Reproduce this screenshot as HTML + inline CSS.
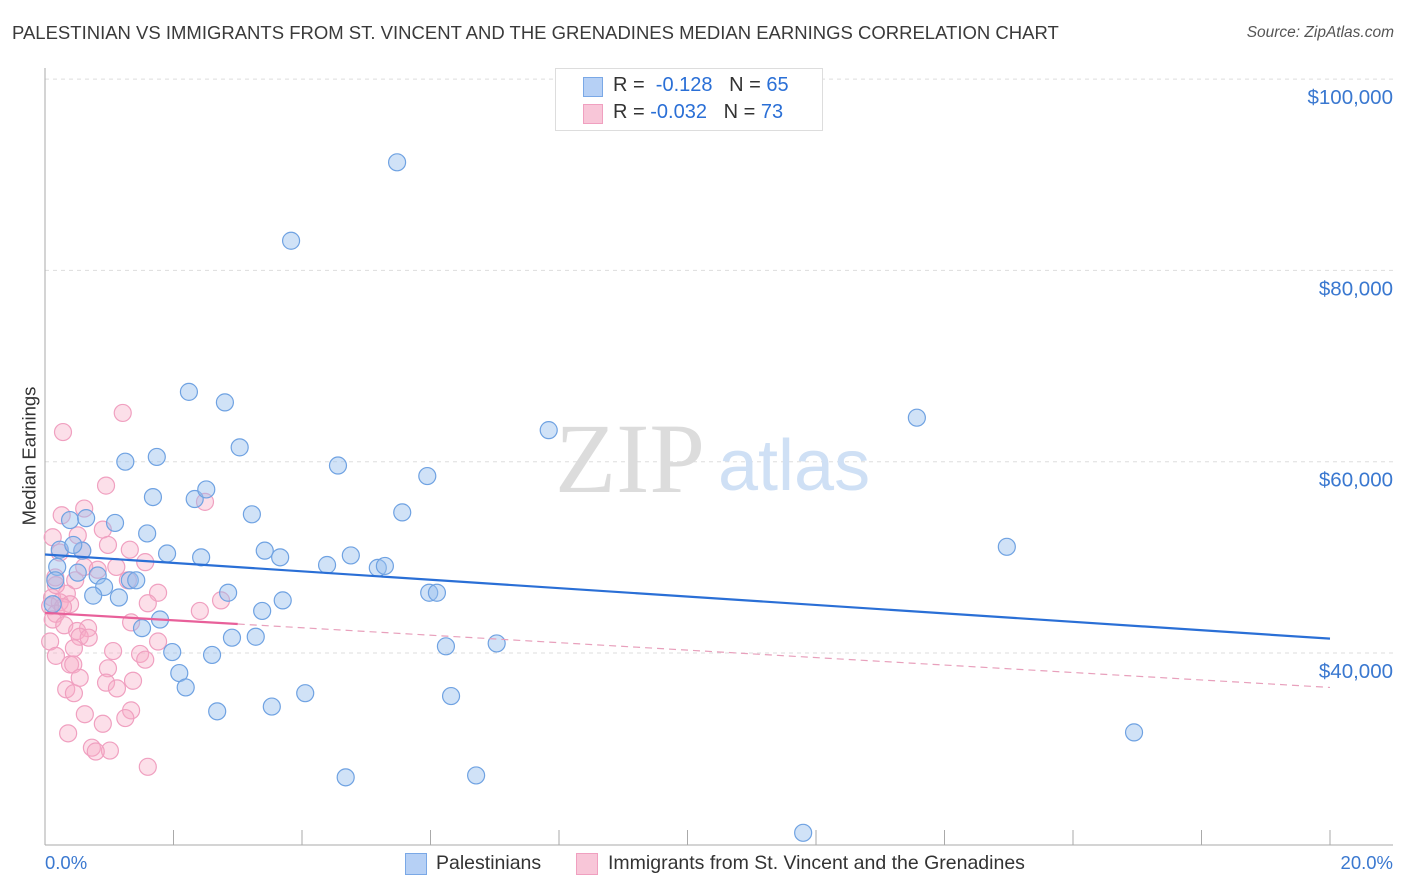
<!DOCTYPE html>
<html><head><meta charset="utf-8">
<style>
body{margin:0;background:#fff;font-family:"Liberation Sans",sans-serif;}
#wrap{position:relative;width:1406px;height:892px;overflow:hidden;}
.t{position:absolute;white-space:nowrap;}
</style></head><body>
<div id="wrap">
<div class="t" style="left:12px;top:22px;font-size:18.5px;color:#3a3a3a;">PALESTINIAN VS IMMIGRANTS FROM ST. VINCENT AND THE GRENADINES MEDIAN EARNINGS CORRELATION CHART</div>
<div class="t" style="right:12px;top:24px;font-size:15.5px;color:#555;font-style:italic;">Source: ZipAtlas.com</div>
<div class="t" style="left:-40px;top:445px;font-size:18.5px;color:#333;transform:rotate(-90deg);">Median Earnings</div>
<svg id="svg" width="1406" height="892" style="position:absolute;left:0;top:0"></svg>
<div style="position:absolute;left:555px;top:68px;width:266px;height:61px;border:1px solid #ddd;background:#fff;">
 <div style="position:absolute;left:27px;top:8px;width:18px;height:18px;background:#b6d0f5;border:1px solid #7aa8e6;"></div>
 <div class="t" style="left:57px;top:5px;font-size:20px;color:#333;">R = &nbsp;<span style="color:#2a6fd6">-0.128</span> &nbsp;&nbsp;N = <span style="color:#2a6fd6">65</span></div>
 <div style="position:absolute;left:27px;top:35px;width:18px;height:18px;background:#f8c6d8;border:1px solid #f0a0c0;"></div>
 <div class="t" style="left:57px;top:32px;font-size:20px;color:#333;">R = <span style="color:#2a6fd6">-0.032</span> &nbsp;&nbsp;N = <span style="color:#2a6fd6">73</span></div>
</div>
<div class="t" style="left:45px;top:852px;font-size:18.5px;color:#3a78d0;">0.0%</div>
<div class="t" style="right:13px;top:852px;font-size:18.5px;color:#3a78d0;">20.0%</div>
<div style="position:absolute;left:405px;top:853px;width:20px;height:20px;background:#b6d0f5;border:1px solid #7aa8e6;"></div>
<div class="t" style="left:436px;top:852px;font-size:19.5px;color:#333;">Palestinians</div>
<div style="position:absolute;left:576px;top:853px;width:20px;height:20px;background:#f8c6d8;border:1px solid #f0a0c0;"></div>
<div class="t" style="left:608px;top:852px;font-size:19.5px;color:#333;">Immigrants from St. Vincent and the Grenadines</div>
</div>
<script>
const yTicks=[40000,60000,80000,100000];
const yTickLabels=["$40,000","$60,000","$80,000","$100,000"];
const blueX=[5.48,3.83,2.24,2.80,7.84,13.57,3.03,1.74,1.25,4.56,5.95,1.68,2.33,2.51,3.22,5.56,0.39,0.64,1.09,1.59,0.58,1.90,2.43,3.42,3.66,4.76,4.39,5.18,5.29,14.97,0.19,0.51,0.82,1.32,1.42,0.92,0.75,1.15,2.85,3.70,3.38,5.98,6.10,1.79,1.51,1.98,2.60,2.91,3.28,6.24,7.03,2.09,2.19,4.05,3.53,2.68,6.32,16.95,4.68,6.71,11.80,0.16,0.23,0.44,0.12];
const blueY=[91300,83100,67300,66200,63300,64600,61500,60500,60000,59600,58500,56300,56100,57100,54500,54700,53900,54100,53600,52500,50700,50400,50000,50700,50000,50200,49200,48900,49100,51100,49000,48400,48100,47600,47600,46900,46000,45800,46300,45500,44400,46300,46300,43500,42600,40100,39800,41600,41700,40700,41000,37900,36400,35800,34400,33900,35500,31700,27000,27200,21200,47600,50800,51300,45100];
const pinkX=[1.21,0.28,0.95,2.49,0.61,0.26,0.90,0.51,0.12,0.98,1.32,0.23,0.58,1.56,0.61,0.82,1.11,0.16,0.47,1.29,1.76,0.34,0.11,0.23,0.39,0.08,1.60,2.41,2.74,0.17,0.12,0.30,0.67,1.34,0.50,0.54,0.68,0.08,0.45,1.76,1.06,1.48,0.17,1.56,0.39,0.44,0.98,0.54,1.37,0.95,0.33,1.12,0.45,1.34,0.62,1.25,0.90,0.36,0.73,1.01,0.79,1.60,0.17,0.28];
const pinkY=[65100,63100,57500,55800,55100,54400,52900,52300,52100,51300,50800,50500,50700,49500,49000,48700,49000,47900,47600,47600,46300,46200,45800,45300,45100,44900,45200,44400,45500,44100,43500,42900,42600,43200,42300,41700,41600,41200,40500,41200,40200,39900,39700,39300,38800,38800,38400,37400,37100,36900,36200,36300,35800,34000,33600,33200,32600,31600,30100,29800,29700,28100,47100,44800];
const blueTrend=[50300,41500];
const pinkTrend=[44200,36400];
const pinkSolidEnd=3.0;
const NS="http://www.w3.org/2000/svg";
const svg=document.getElementById('svg');
const X=v=>45+v/20*1285;
const Y=v=>653-(v-40000)*191.3/20000;
function mk(t,a){const e=document.createElementNS(NS,t);for(const k in a)e.setAttribute(k,a[k]);svg.appendChild(e);return e;}
yTicks.forEach((v,i)=>{
 const g=mk('line',{x1:45,x2:1393,y1:Y(v),y2:Y(v),stroke:'#ddd','stroke-dasharray':'4,4'});
 
 
 const t=mk('text',{x:1393,y:Y(v)+25,'text-anchor':'end','font-size':'20.5','fill':'#3a78d0','font-family':'Liberation Sans, sans-serif'});
 t.textContent=yTickLabels[i];
 
 
});
const ax=mk('line',{x1:45,x2:45,y1:68,y2:845,stroke:'#aaa'});


const bx=mk('line',{x1:45,x2:1393,y1:845,y2:845,stroke:'#aaa'});


for(let i=1;i<=10;i++){const tk=mk('line',{x1:X(i*2),x2:X(i*2),y1:830,y2:845,stroke:'#aaa'});
 
 }
const wm=mk('text',{x:555,y:492,'font-size':'100','fill':'#dcdcdc','font-family':'Liberation Serif, serif'});wm.textContent='ZIP';


const wm2=mk('text',{x:718,y:490,'font-size':'72','fill':'#cfe0f5','font-family':'Liberation Sans, sans-serif'});wm2.textContent='atlas';


pinkX.forEach((x,i)=>{const c=mk('circle',{cx:X(x),cy:Y(pinkY[i]),r:8.5,fill:'rgba(246,170,198,0.38)',stroke:'#f0a0c0','stroke-width':1.2});
 
 });
blueX.forEach((x,i)=>{const c=mk('circle',{cx:X(x),cy:Y(blueY[i]),r:8.5,fill:'rgba(150,190,238,0.45)',stroke:'#6fa2e2','stroke-width':1.2});
 
 });
const pAt=x=>pinkTrend[0]+(pinkTrend[1]-pinkTrend[0])*x/20;
const pd=mk('line',{x1:X(pinkSolidEnd),y1:Y(pAt(pinkSolidEnd)),x2:X(20),y2:Y(pinkTrend[1]),stroke:'#e8a0bc','stroke-width':1.2,'stroke-dasharray':'7,5'});


const ps=mk('line',{x1:X(0),y1:Y(pinkTrend[0]),x2:X(pinkSolidEnd),y2:Y(pAt(pinkSolidEnd)),stroke:'#e8609a','stroke-width':2.2});


const bl=mk('line',{x1:X(0),y1:Y(blueTrend[0]),x2:X(20),y2:Y(blueTrend[1]),stroke:'#2a6fd6','stroke-width':2.2});


</script>
</body></html>
